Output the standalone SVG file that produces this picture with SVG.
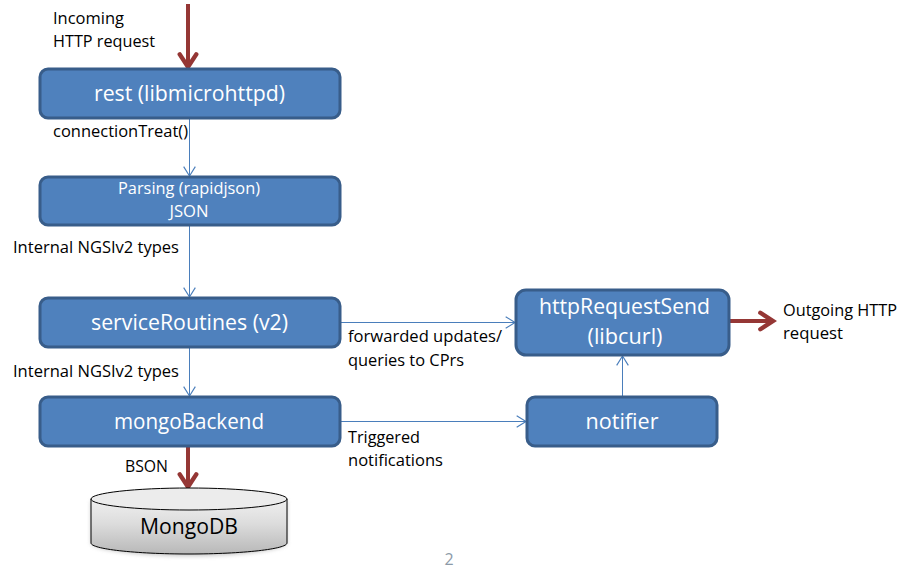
<svg xmlns="http://www.w3.org/2000/svg" width="913" height="579" viewBox="0 0 913 579">
<style>
text{font-family:"Open Sans","Noto Sans","Liberation Sans",sans-serif}
.box{fill:#4f81bd;stroke:#385d8a;stroke-width:3}
.w{fill:#fff;font-size:22.500px;text-anchor:middle}
.ws{fill:#fff;font-size:16px;text-anchor:middle}
.l{fill:#000;font-size:16px}
.thin{fill:none;stroke:#4a7ebb;stroke-width:1;marker-end:url(#open)}
.thick{fill:none;stroke:#953735;stroke-width:4;marker-end:url(#openRed)}
</style>
<defs>
<marker id="open" markerUnits="userSpaceOnUse" markerWidth="14" markerHeight="14" refX="10" refY="6" orient="auto" viewBox="0 0 12 12"><path d="M2 1L10 6L2 11" fill="none" stroke="#4a7ebb" stroke-width="1"/></marker>
<marker id="openRed" markerUnits="userSpaceOnUse" markerWidth="22" markerHeight="22" refX="16" refY="10" orient="auto" viewBox="0 0 20 20"><path d="M4.500 2.500L16 10L4.500 17.500" fill="none" stroke="#953735" stroke-width="4" stroke-linecap="round"/></marker>
<linearGradient id="cyl" x1="0" y1="0" x2="0" y2="1"><stop offset="0" stop-color="#f0f0f0"/><stop offset="0.45" stop-color="#dcdcdc"/><stop offset="1" stop-color="#b8b8b8"/></linearGradient>
<filter id="blur" x="-10%" y="-30%" width="120%" height="160%"><feGaussianBlur stdDeviation="2"/></filter>
</defs>
<g id="connectors">
<path class="thick" d="M188 4V67"/>
<path class="thin" d="M189.500 118V176"/>
<path class="thin" d="M189.500 225V297"/>
<path class="thin" d="M189.500 347V396"/>
<path class="thin" d="M340 322.500H515"/>
<path class="thin" d="M340 421.500H526"/>
<path class="thin" d="M622.500 397V356"/>
<path class="thick" d="M729 321H773"/>
<path class="thick" d="M188 446V487"/>
</g>
<g id="rest"><rect class="box" x="40" y="69" width="300" height="49" rx="8"/><text class="w" x="189.500" y="101" textLength="191" lengthAdjust="spacingAndGlyphs">rest (libmicrohttpd)</text></g>
<g id="parsing"><rect class="box" x="40" y="177" width="300" height="48" rx="8"/><text class="ws" x="189" y="194" textLength="142" lengthAdjust="spacingAndGlyphs">Parsing (rapidjson)</text><text class="ws" x="189" y="217" textLength="39" lengthAdjust="spacingAndGlyphs">JSON</text></g>
<g id="serviceRoutines"><rect class="box" x="40" y="298" width="300" height="49" rx="8"/><text class="w" x="189.500" y="330" textLength="197" lengthAdjust="spacingAndGlyphs">serviceRoutines (v2)</text></g>
<g id="mongoBackend"><rect class="box" x="40" y="397" width="300" height="49" rx="8"/><text class="w" x="189" y="429" textLength="150" lengthAdjust="spacingAndGlyphs">mongoBackend</text></g>
<g id="httpRequestSend"><rect class="box" x="516" y="290" width="213" height="65" rx="10"/><text class="w" x="624.500" y="314" textLength="171" lengthAdjust="spacingAndGlyphs">httpRequestSend</text><text class="w" x="625" y="344" textLength="75" lengthAdjust="spacingAndGlyphs">(libcurl)</text></g>
<g id="notifier"><rect class="box" x="527" y="397" width="190" height="49" rx="8"/><text class="w" x="622" y="429" textLength="73" lengthAdjust="spacingAndGlyphs">notifier</text></g>
<g id="mongodb">
<path d="M91 501V543C91 549 135 556 189 556S287 549 287 543V501Z" fill="#888" opacity="0.5" filter="url(#blur)"/>
<path d="M91 499V543C91 549 135 554 189 554S287 549 287 543V499Z" fill="url(#cyl)" stroke="#000" stroke-width="1"/>
<ellipse cx="189" cy="499" rx="98" ry="11" fill="#ececec" stroke="#000" stroke-width="1"/>
<text x="189" y="534" font-size="22.500" text-anchor="middle" fill="#000" textLength="98" lengthAdjust="spacingAndGlyphs">MongoDB</text>
</g>
<g id="labels">
<text class="l" x="53" y="24" textLength="71" lengthAdjust="spacingAndGlyphs">Incoming</text>
<text class="l" x="53" y="47" textLength="102" lengthAdjust="spacingAndGlyphs">HTTP request</text>
<text class="l" x="53" y="137" textLength="135" lengthAdjust="spacingAndGlyphs">connectionTreat()</text>
<text class="l" x="13" y="253" textLength="166" lengthAdjust="spacingAndGlyphs">Internal NGSIv2 types</text>
<text class="l" x="13" y="377" textLength="166" lengthAdjust="spacingAndGlyphs">Internal NGSIv2 types</text>
<text class="l" x="125" y="472" textLength="43" lengthAdjust="spacingAndGlyphs">BSON</text>
<text class="l" x="348" y="342" textLength="154" lengthAdjust="spacingAndGlyphs">forwarded updates/</text>
<text class="l" x="348" y="366" textLength="116" lengthAdjust="spacingAndGlyphs">queries to CPrs</text>
<text class="l" x="348" y="443" textLength="72" lengthAdjust="spacingAndGlyphs">Triggered</text>
<text class="l" x="348" y="466" textLength="95" lengthAdjust="spacingAndGlyphs">notifications</text>
<text class="l" x="783" y="316" textLength="114" lengthAdjust="spacingAndGlyphs">Outgoing HTTP</text>
<text class="l" x="783" y="339" textLength="60" lengthAdjust="spacingAndGlyphs">request</text>
<text x="449" y="565" font-size="16" fill="#8c9aa8" text-anchor="middle">2</text>
</g>
</svg>
